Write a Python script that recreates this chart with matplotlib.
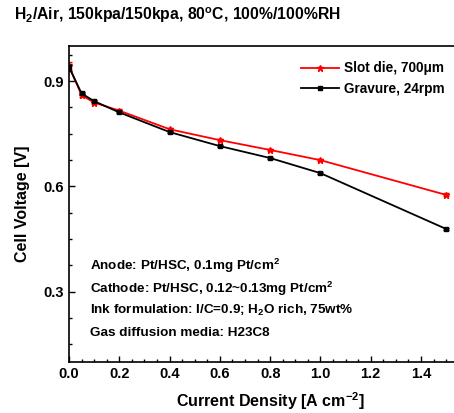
import numpy as np
import matplotlib
matplotlib.use('Agg')
import matplotlib.pyplot as plt
from matplotlib.ticker import MultipleLocator, FixedLocator

# data
current = [0.0, 0.05, 0.1, 0.2, 0.4, 0.6, 0.8, 1.0, 1.5]
slot_die = [0.943, 0.860, 0.839, 0.816, 0.763, 0.732, 0.704, 0.675, 0.576]
slot_err = [0.012, 0.006, 0.004, 0.004, 0.004, 0.003, 0.003, 0.003, 0.004]
gravure = [0.940, 0.865, 0.843, 0.811, 0.755, 0.715, 0.681, 0.638, 0.479]
grav_err = [0.010, 0.004, 0.003, 0.003, 0.003, 0.003, 0.003, 0.003, 0.004]

labels = ['Slot die, 700\u03bcm', 'Gravure, 24rpm']
title = 'H$_2$/Air, 150kpa/150kpa, 80$^{o}$C, 100%/100%RH'
notes = ['Anode: Pt/HSC, 0.1mg Pt/cm$^2$',
         'Cathode: Pt/HSC, 0.12~0.13mg Pt/cm$^2$',
         'Ink formulation: I/C=0.9; H$_2$O rich, 75wt%',
         'Gas diffusion media: H23C8']

plt.rcParams['font.family'] = 'Liberation Sans'
plt.rcParams['font.weight'] = 'bold'
plt.rcParams['axes.labelweight'] = 'bold'
plt.rcParams['mathtext.fontset'] = 'custom'
plt.rcParams['mathtext.rm'] = 'Liberation Sans:bold'
plt.rcParams['mathtext.it'] = 'Liberation Sans:bold'
plt.rcParams['mathtext.bf'] = 'Liberation Sans:bold'
plt.rcParams['mathtext.default'] = 'rm'

fig = plt.figure(figsize=(4.54, 4.13), dpi=100)
ax = fig.add_axes([0.152, 0.1235, 0.886, 0.765])

ax.errorbar(current, slot_die, yerr=slot_err, color='red', fmt='none',
            capsize=2, elinewidth=0.8)
ax.errorbar(current, gravure, yerr=grav_err, color='black', fmt='none',
            capsize=2, elinewidth=0.8)
ax.plot(current, slot_die, color='red', marker='*', markersize=4.5,
        linewidth=1.3, label=labels[0])
ax.plot(current, gravure, color='black', marker='s', markersize=3.2,
        linewidth=1.3, label=labels[1])

ax.set_xlim(0, 1.6)
ax.set_ylim(0.1, 1.0)
ax.xaxis.set_major_locator(FixedLocator([0, 0.2, 0.4, 0.6, 0.8, 1.0, 1.2, 1.4]))
ax.xaxis.set_minor_locator(MultipleLocator(0.05))
ax.yaxis.set_major_locator(MultipleLocator(0.3))
ax.yaxis.set_minor_locator(MultipleLocator(0.075))
ax.tick_params(which='both', direction='in', top=False, right=False, labelsize=10.5, width=1)
ax.tick_params(which='major', length=4)
ax.tick_params(which='minor', length=2.5)
for s in ax.spines.values():
    s.set_linewidth(1.2)

ax.set_xlabel('Current Density [A cm$^{-2}$]', fontsize=11.5, labelpad=7)
ax.set_ylabel('Cell Voltage [V]', fontsize=11.5, labelpad=10)

ax.legend(loc='upper left', bbox_to_anchor=(300 / 454, 1 - 60 / 413),
          bbox_transform=fig.transFigure, frameon=False, fontsize=9.8,
          handlelength=2.8, handletextpad=0.3, borderaxespad=0, borderpad=0.1)

fig.text(0.031, 0.963, title, fontsize=11.3, va='center', ha='left')
ys = [266, 289, 310, 333]
for t, y in zip(notes, ys):
    fig.text(90 / 454, 1 - y / 413, t, fontsize=9.7, va='center', ha='left')

fig.savefig('out.png', dpi=100)
